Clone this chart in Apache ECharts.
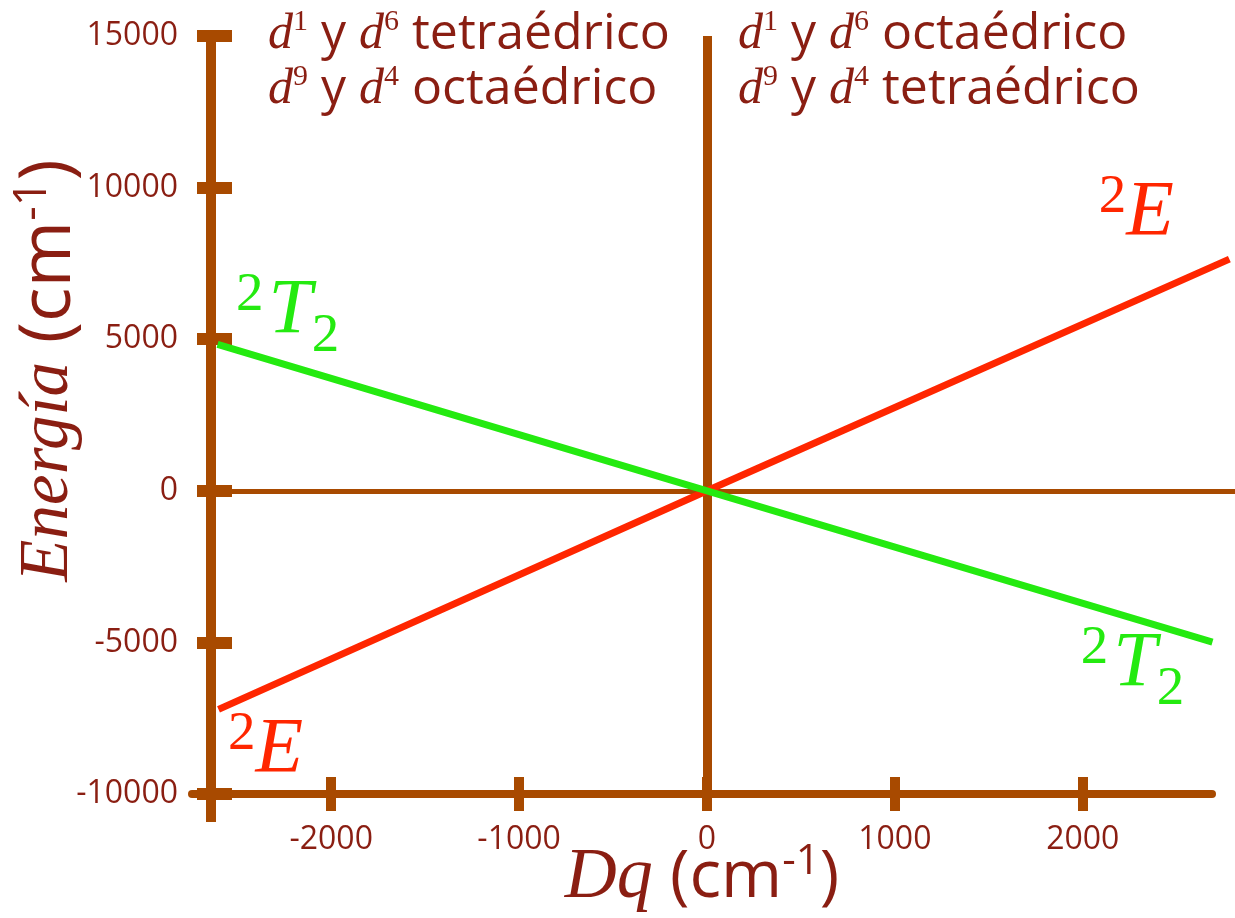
<!DOCTYPE html>
<html>
<head>
<meta charset="utf-8">
<script src="https://cdn.jsdelivr.net/npm/echarts@6/dist/echarts.min.js"></script>
<style>
  html, body { margin: 0; padding: 0; background: #ffffff; }
  #chart { width: 1235px; height: 918px; }
</style>
</head>
<body>
<div id="chart"></div>
<script>
// Tick values of both axes
const dqTicks = [-2000, -1000, 0, 1000, 2000];
const energyTicks = [-10000, -5000, 0, 5000, 10000, 15000];

// Term energies (cm-1) against Dq (cm-1)
const dqE = [-2600, 0, 2780];
const energyE = [-7210, 0, 7640];
const dqT2 = [-2605, 0, 2690];
const energyT2 = [4830, 0, -4990];

// Header captions
const leftCaption = [['1', '6', 'tetraédrico'], ['9', '4', 'octaédrico']];
const rightCaption = [['1', '6', 'octaédrico'], ['9', '4', 'tetraédrico']];

const BROWN = '#a84a00';
const INK = '#8a1e12';
const RED = '#ff2600';
const GREEN = '#24ea10';
const SANS = 'Open Sans';
const SERIF = 'Liberation Serif';

const pairs = (xs, ys) => xs.map((x, i) => [x, ys[i]]);
const plainNumber = v => String(v);

const energyRange = { min: energyTicks[0], max: energyTicks[energyTicks.length - 1] };
const dqPlotRange = { min: -2640, max: 2810 };
const dqBaseRange = { min: -2741, max: 2688 };

const plotGrid = { left: 211, right: 0, top: 36, bottom: 124, outerBoundsMode: 'none' };
const baseGrid = { left: 192, right: 23, top: 36, bottom: 124, outerBoundsMode: 'none' };

function hiddenAxis(gridIndex, range) {
  return Object.assign({
    type: 'value', gridIndex: gridIndex, show: false,
    axisLine: { show: false, onZero: false }, splitLine: { show: false }
  }, range);
}

const tickLabelStyle = { color: INK, fontFamily: SANS, fontSize: 32, formatter: plainNumber };

function caption(rows) {
  return rows.map(r =>
    '{d|d}{p|' + r[0] + '}{s| y }{d|d}{p|' + r[1] + '}{s| ' + r[2] + '}'
  ).join('\n');
}
const captionRich = {
  d: { fontFamily: SERIF, fontStyle: 'italic', fontWeight: 'normal', fontSize: 50, color: INK, lineHeight: 55 },
  p: { fontFamily: SERIF, fontWeight: 'normal', fontSize: 30, color: INK, lineHeight: 52, verticalAlign: 'top' },
  s: { fontFamily: SANS, fontWeight: 'normal', fontSize: 50, color: INK, lineHeight: 55 }
};

// Term symbol 2E: raised multiplicity and italic letter
function richE(color) {
  return {
    a: { fontFamily: SERIF, fontSize: 55, color: color, verticalAlign: 'top' },
    b: { fontFamily: SERIF, fontStyle: 'italic', fontSize: 78, color: color, lineHeight: 82, verticalAlign: 'bottom' }
  };
}
// Term symbol 2T2: raised multiplicity, italic letter, lowered subscript
function richT(color) {
  return {
    a: { fontFamily: SERIF, fontSize: 55, color: color, verticalAlign: 'top', padding: [10, 5, 0, 0] },
    b: { fontFamily: SERIF, fontStyle: 'italic', fontSize: 78, color: color, lineHeight: 106, verticalAlign: 'middle' },
    c: { fontFamily: SERIF, fontSize: 55, color: color, verticalAlign: 'bottom' }
  };
}

const unitRich = (italicSize, sansSize, supSize, lh) => ({
  i: { fontFamily: SERIF, fontStyle: 'italic', fontSize: italicSize, color: INK, lineHeight: lh },
  n: { fontFamily: SANS, fontSize: sansSize, color: INK, lineHeight: lh },
  p: { fontFamily: SANS, fontSize: supSize, color: INK, lineHeight: lh - 6, verticalAlign: 'top' }
});

const option = {
  animation: false,
  backgroundColor: '#ffffff',
  title: [
    { left: 268, top: 7, padding: 0, text: caption(leftCaption), textStyle: { fontWeight: 'normal', rich: captionRich } },
    { left: 738, top: 7, padding: 0, text: caption(rightCaption), textStyle: { fontWeight: 'normal', rich: captionRich } }
  ],
  grid: [plotGrid, baseGrid, plotGrid, baseGrid],
  xAxis: [
    hiddenAxis(0, dqPlotRange),
    Object.assign({
      type: 'value', gridIndex: 1, position: 'bottom',
      axisLine: { show: true, onZero: false, lineStyle: { color: BROWN, width: 8 } },
      axisTick: { show: true, customValues: dqTicks, length: 17, lineStyle: { color: BROWN, width: 10 } },
      axisLabel: Object.assign({ customValues: dqTicks, margin: 30 }, tickLabelStyle),
      splitLine: { show: false },
      name: '{i|Dq}{n| (cm}{p|-1}{n|)}',
      nameLocation: 'middle', nameGap: 47, nameMoveOverlap: false,
      nameTextStyle: { rich: unitRich(72, 66, 42, 74) }
    }, dqBaseRange),
    hiddenAxis(2, dqPlotRange),
    Object.assign({
      type: 'value', gridIndex: 3, position: 'bottom',
      axisLine: { show: false, onZero: false },
      axisTick: { show: true, inside: true, customValues: dqTicks, length: 17, lineStyle: { color: BROWN, width: 10 } },
      axisLabel: { show: false },
      splitLine: { show: false }
    }, dqBaseRange)
  ],
  yAxis: [
    Object.assign({
      type: 'value', gridIndex: 0, position: 'left', interval: 5000,
      axisLine: {
        show: true, onZero: false, symbol: ['rect', 'none'], symbolSize: [10, 56],
        lineStyle: { color: BROWN, width: 10 }
      },
      axisTick: { show: true, length: 14, lineStyle: { color: BROWN, width: 12 } },
      axisLabel: Object.assign({ margin: 33 }, tickLabelStyle),
      splitLine: { show: false },
      name: '{i|Energía}{n| (cm}{p|-1}{n|)}',
      nameLocation: 'middle', nameRotate: 90, nameGap: 124, nameMoveOverlap: false,
      nameTextStyle: { rich: unitRich(69, 72, 45, 76), padding: [0, 0, 0, 89] }
    }, energyRange),
    hiddenAxis(1, energyRange),
    Object.assign({
      type: 'value', gridIndex: 2, position: 'left', interval: 5000,
      axisLine: { show: false, onZero: false },
      axisTick: { show: true, inside: true, length: 21, lineStyle: { color: BROWN, width: 12 } },
      axisLabel: { show: false },
      splitLine: { show: false }
    }, energyRange),
    hiddenAxis(3, energyRange)
  ],
  series: [
    {
      name: '2E', type: 'line', xAxisIndex: 0, yAxisIndex: 0, z: 4,
      data: pairs(dqE, energyE), symbol: 'none', silent: true,
      lineStyle: { color: RED, width: 7 },
      markPoint: {
        symbol: 'circle', symbolSize: 1, silent: true,
        itemStyle: { color: 'rgba(0,0,0,0)' },
        label: { show: true, position: 'inside', formatter: '{a|2}{b|E}', rich: richE(RED) },
        data: [
          { coord: [dqE[2], energyE[2]], label: { offset: [-93, -48] } },
          { coord: [dqE[0], energyE[0]], label: { offset: [47, 39] } }
        ]
      },
      markLine: {
        z: 1, silent: true, symbol: ['none', 'none'], label: { show: false },
        lineStyle: { color: BROWN, type: 'solid' },
        data: [
          { xAxis: 0, lineStyle: { width: 9 } },
          { yAxis: 0, lineStyle: { width: 5 } }
        ]
      }
    },
    {
      name: '2T2', type: 'line', xAxisIndex: 0, yAxisIndex: 0, z: 4,
      data: pairs(dqT2, energyT2), symbol: 'none', silent: true,
      lineStyle: { color: GREEN, width: 7 },
      markPoint: {
        symbol: 'circle', symbolSize: 1, silent: true,
        itemStyle: { color: 'rgba(0,0,0,0)' },
        label: { show: true, position: 'inside', formatter: '{a|2}{b|T}{c|2}', rich: richT(GREEN) },
        data: [
          { coord: [dqT2[0], energyT2[0]], label: { offset: [70, -33] } },
          { coord: [dqT2[2], energyT2[2]], label: { offset: [-80, 22] } }
        ]
      }
    }
  ]
};

const chart = echarts.init(document.getElementById('chart'));
chart.setOption(option);
</script>
</body>
</html>
